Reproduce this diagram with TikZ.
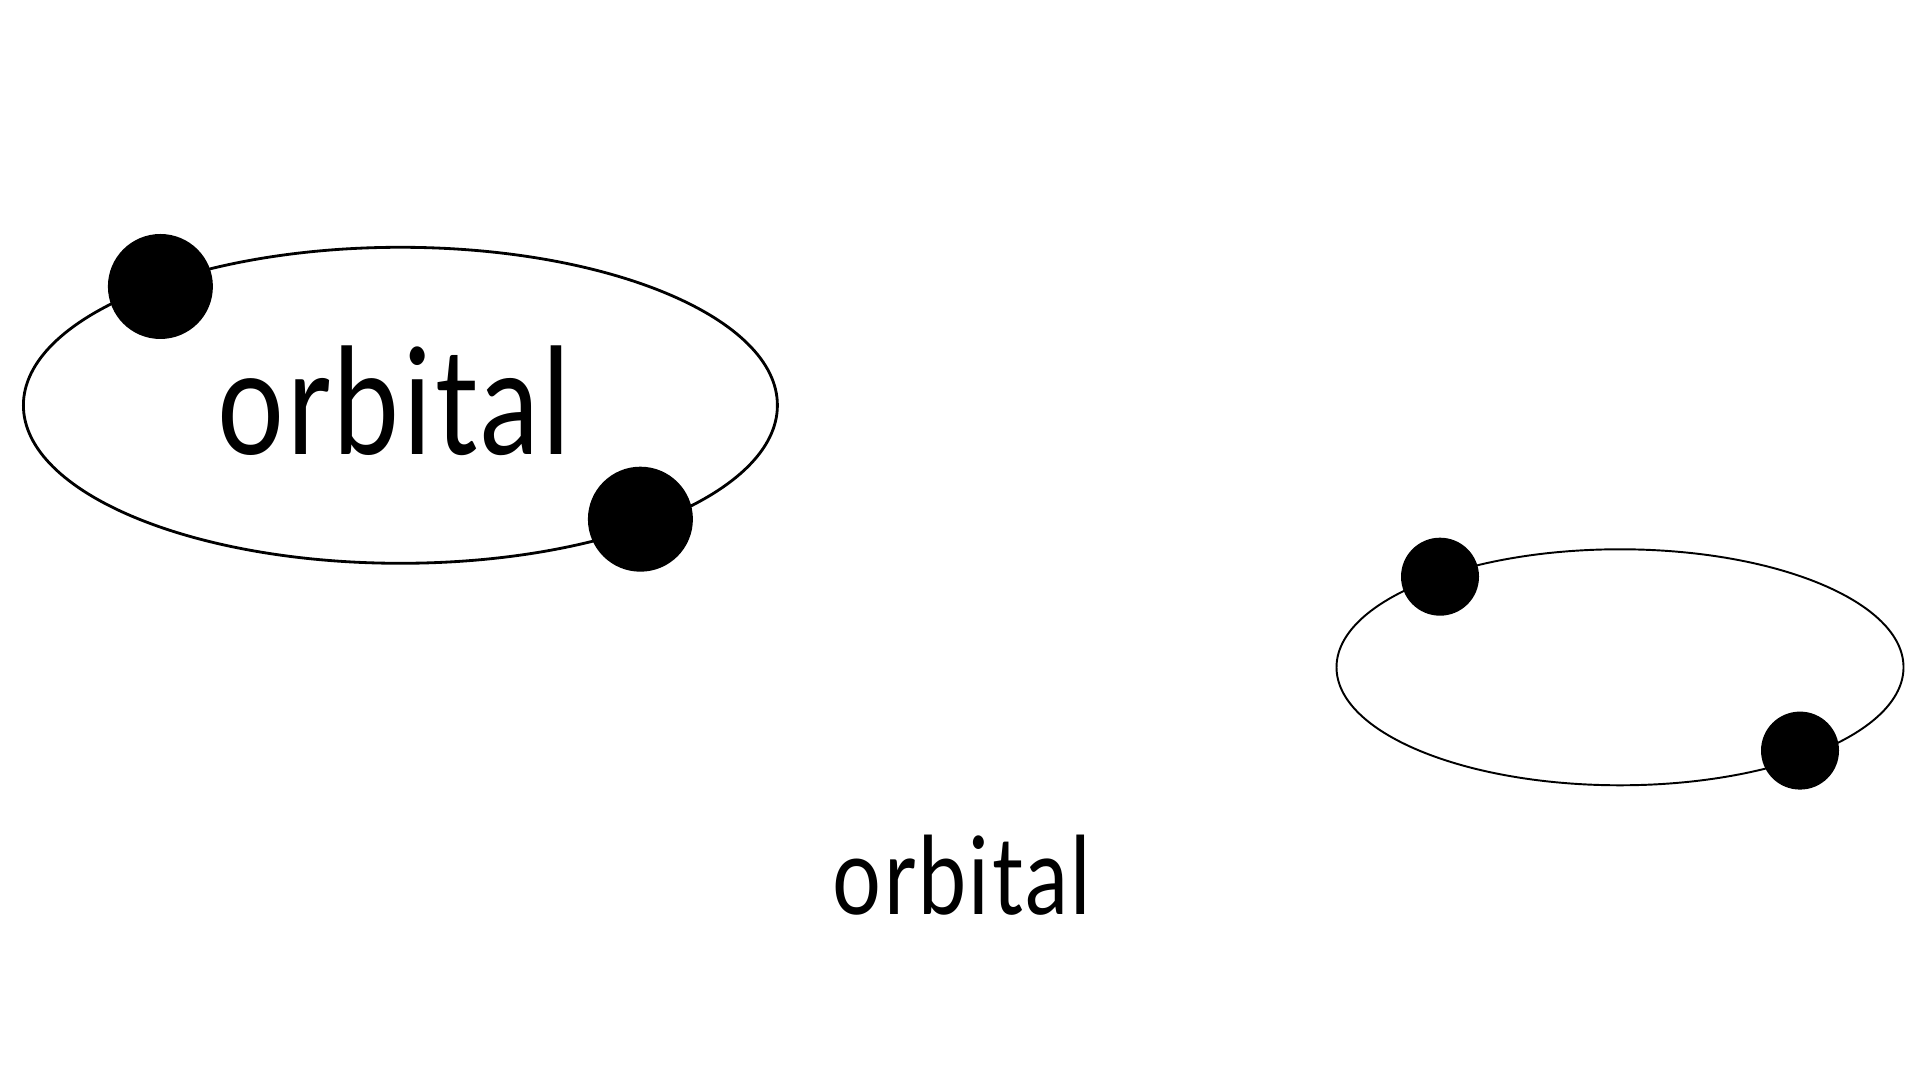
\documentclass[tikz,border=0pt]{standalone}
\usepackage{fontspec}
\newfontfamily\orbfont[FakeStretch=0.8, LetterSpace=2.3]{Lato}
\usetikzlibrary{shapes.geometric}
\tikzset{
  orbit/.style={ellipse, draw=black, inner sep=0pt},
  electron/.style={circle, fill=black, inner sep=0pt},
  orblabel/.style={font=\orbfont, text=black, inner sep=0pt}
}
\begin{document}
\begin{tikzpicture}
\useasboundingbox (0,0) rectangle (19.2,10.8);

% big orbit with label inside
\node[orbit, line width=0.8pt, minimum width=7.54cm, minimum height=3.16cm] (bigorbit) at (4.004,6.747) {};
\node[electron, minimum size=1.05cm] (bigtop) at (1.604,7.935) {};
\node[electron, minimum size=1.05cm] (bigbot) at (6.404,5.608) {};
\node[orblabel, font=\orbfont\fontsize{42}{42}\selectfont] (biglabel) at (3.94,6.79) {orbital};

% small orbit, label below
\node[orbit, line width=0.55pt, minimum width=5.67cm, minimum height=2.36cm] (smallorbit) at (16.20,4.127) {};
\node[electron, minimum size=0.78cm] (smalltop) at (14.40,5.033) {};
\node[electron, minimum size=0.78cm] (smallbot) at (18.00,3.294) {};
\node[orblabel, font=\orbfont\fontsize{30.7}{31}\selectfont] (smalllabel) at (9.62,2.045) {orbital};
\end{tikzpicture}
\end{document}
